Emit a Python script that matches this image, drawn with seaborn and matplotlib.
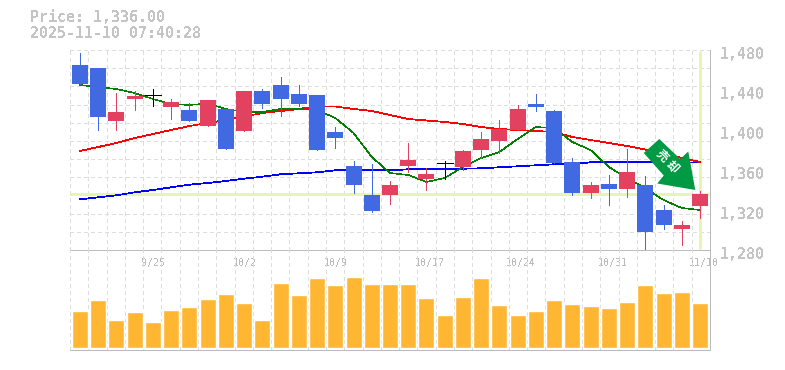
import numpy as np
import matplotlib
matplotlib.use('Agg')
import matplotlib.pyplot as plt
import seaborn as sns
from matplotlib.patches import Polygon
from matplotlib.transforms import ScaledTranslation, IdentityTransform

# daily prices, 35 sessions
opens = [1465, 1462, 1409, 1431, 1435, 1423, 1420, 1404, 1421, 1399, 1439, 1445, 1436, 1435, 1398, 1364, 1335, 1335,
         1364, 1351, 1367, 1363, 1380, 1389, 1400, 1426, 1419, 1368, 1337, 1346, 1341, 1345, 1320, 1301, 1324]
closes = [1446, 1413, 1418, 1434, 1435, 1428, 1409, 1430, 1381, 1439, 1426, 1431, 1426, 1380, 1392, 1345, 1319, 1345,
          1370, 1356, 1367, 1379, 1391, 1401, 1421, 1423, 1367, 1337, 1345, 1341, 1358, 1298, 1305, 1305, 1336]
highs = [1477, 1462, 1437, 1439, 1441, 1431, 1427, 1430, 1421, 1439, 1441, 1453, 1445, 1435, 1403, 1369, 1366, 1349,
         1387, 1362, 1369, 1380, 1398, 1410, 1425, 1436, 1420, 1372, 1348, 1355, 1381, 1354, 1325, 1309, 1339]
lows = [1446, 1400, 1400, 1420, 1424, 1411, 1409, 1404, 1381, 1399, 1422, 1414, 1424, 1380, 1382, 1337, 1318, 1326,
        1358, 1340, 1351, 1360, 1372, 1377, 1400, 1419, 1367, 1335, 1332, 1325, 1333, 1281, 1301, 1285, 1312]

ma_short = [1445, 1443, 1441, 1437, 1431, 1426, 1425, 1426.5, 1421, 1418, 1418, 1421, 1421, 1420, 1412, 1397, 1373, 1357,
            1355, 1348, 1352, 1363, 1372, 1378, 1391, 1403, 1402, 1388, 1380, 1363, 1352, 1342, 1330, 1322, 1320]
ma_mid = [1379, 1383, 1387, 1392, 1396, 1400, 1404, 1407, 1410, 1413.5, 1417, 1419, 1421, 1423.7, 1423.5, 1421, 1419, 1415,
          1411, 1409.5, 1408, 1406, 1403, 1401, 1400, 1399, 1398, 1393, 1390, 1387, 1384, 1380.5, 1377, 1372, 1368]
ma_long = [1330.7, 1332.7, 1334.7, 1337.7, 1340, 1342.7, 1345.3, 1347, 1349, 1351.3, 1353.3, 1355.7, 1356.7, 1357.7, 1359.7,
           1359.7, 1359.7, 1359.7, 1360.7, 1360.7, 1361, 1361.3, 1361.7, 1362.7, 1363.7, 1364.7, 1365.7, 1366, 1367.7,
           1367.7, 1367.7, 1367.7, 1367.7, 1367.7, 1367.5]

volumes = [37, 48, 28, 36, 26, 38, 41, 49, 54, 45, 28, 65, 53, 70, 63, 71, 64, 64,
           64, 50, 33, 51, 70, 43, 33, 37, 48, 44, 42, 40, 46, 63, 55, 56, 45]

date_pos = [4, 9, 14, 19, 24, 29, 34]
date_labels = ['9/25', '10/2', '10/9', '10/17', '10/24', '10/31', '11/10']
price_ticks = [1480, 1440, 1400, 1360, 1320, 1280]
price_labels = ['1,480', '1,440', '1,400', '1,360', '1,320', '1,280']
last_price = 1336

UP = '#E2415F'
DOWN = '#4169E1'
DOJI = '#000000'
TXT = '#BBBBBB'
TXT_BIG = '#C4C4C4'
GRID = '#DDDDDD'
GUIDE = '#E6F5B0'

sns.set_theme(style='white')
plt.rcParams['font.family'] = ['DejaVu Sans Mono']
plt.rcParams['text.antialiased'] = False

W, H = 785, 370
fig = plt.figure(figsize=(W / 100, H / 100), dpi=100)
ax = fig.add_axes([70 / W, 1 - 250 / H, 640 / W, 200 / H])
ax_vol = fig.add_axes([70 / W, 1 - 349.5 / H, 640 / W, 99.5 / H])

days = np.arange(len(opens))
xlim = (-0.548, 34.548)
px = 0.72  # one pixel in points
for a in (ax, ax_vol):
    a.set_xlim(xlim)
    a.set_facecolor('none')
    a.set_axisbelow(True)
    for s in a.spines.values():
        s.set_visible(False)
    for x in np.linspace(xlim[0], xlim[1], 36)[:-1]:
        a.axvline(x, color=GRID, linewidth=px, ls=(0, (3, 3)), antialiased=False, zorder=0)
    a.spines['right'].set_visible(True)
    a.spines['bottom'].set_visible(True)
    a.spines['right'].set_color(TXT)
    a.spines['bottom'].set_color(TXT)
    a.spines['right'].set_linewidth(px)
    a.spines['bottom'].set_linewidth(px)

ax.set_ylim(1280, 1480)
for y in np.linspace(1280, 1480, 12)[1:]:
    ax.axhline(y, color=GRID, linewidth=px, ls=(0, (3, 3)), antialiased=False, zorder=0)

# last price guides
ax.axhline(last_price, color=GUIDE, linewidth=3 * px, zorder=1)
ax.vlines(days[-1], 1281, 1479, color=GUIDE, linewidth=3 * px, zorder=1)

# moving averages, aliased lines come out fat so keep them thin
sns.lineplot(x=days, y=ma_long, ax=ax, color='#0000FF', linewidth=0.55, antialiased=False, zorder=2)
sns.lineplot(x=days, y=ma_mid, ax=ax, color='#FF0000', linewidth=0.55, antialiased=False, zorder=2)
sns.lineplot(x=days, y=ma_short, ax=ax, color='#008000', linewidth=0.4, antialiased=False, zorder=2)

# candles
for d, o, c, h, l in zip(days, opens, closes, highs, lows):
    col = UP if c > o else DOWN if c < o else DOJI
    ax.vlines(d, l, h, color=col, linewidth=px, antialiased=False, zorder=3)
    if c == o:
        ax.hlines(c, d - 0.44, d + 0.44, color=col, linewidth=px, antialiased=False, zorder=3)
    else:
        ax.bar(d, abs(c - o), bottom=min(o, c), width=16 / 18.235, color=col, linewidth=0, antialiased=False, zorder=3)

# volume
ax_vol.set_ylim(-1.5, 98)
sns.barplot(x=days, y=volumes, ax=ax_vol, color='#FFB733', saturation=1, width=16 / 18.235, native_scale=True, zorder=2)
ax_vol.set_xlim(xlim)
ax_vol.set_ylabel('')
ax_vol.set_yticks([])
ax_vol.set_xticks([])

# price labels on the right, sitting a little below their level
ax.yaxis.tick_right()
ax.set_yticks(price_ticks)
ax.set_yticklabels(price_labels, fontsize=10.8, color=TXT_BIG, weight='bold')
ax.tick_params(axis='y', length=0, pad=7)
shift = ScaledTranslation(0, -3 / 100, fig.dpi_scale_trans)
for t in ax.get_yticklabels():
    t.set_transform(t.get_transform() + shift)

# date labels start just left of their candle
ax.set_xticks(date_pos)
ax.set_xticklabels(date_labels, fontsize=7.2, color=TXT, ha='left')
ax.tick_params(axis='x', length=0, pad=6)
shift = ScaledTranslation(-11.5 / 100, 0, fig.dpi_scale_trans)
for t in ax.get_xticklabels():
    t.set_transform(t.get_transform() + shift)

fig.text(30 / W, 1 - 18 / H, 'Price: 1,336.00', fontsize=10.8, color=TXT_BIG, va='center', weight='bold')
fig.text(30 / W, 1 - 33 / H, '2025-11-10 07:40:28', fontsize=10.8, color=TXT_BIG, va='center', weight='bold')

# signal arrow, drawn in pixels from its tip
tip = ax.transData.transform((33.74, 1340))
arrow = [(0, 0), (-38, -6.5), (-31.5, -14.5), (-51.5, -37), (-36, -51), (-15, -31), (-7, -38.5)]
verts = [(tip[0] + dx, tip[1] - dy) for dx, dy in arrow]
ax.add_patch(Polygon(verts, closed=True, transform=IdentityTransform(), facecolor='#009944',
                     edgecolor='none', zorder=5, clip_on=False))
for ch, (gx, gy) in zip('売却', [(662, 156), (672, 167)]):
    t = fig.text(gx / W, 1 - gy / H, ch, fontsize=8.5, color='white', rotation=-45, ha='center', va='center',
                 family='Noto Sans CJK JP', weight='bold', zorder=6)
    t.set_antialiased(True)

fig.savefig('out.png', dpi=100)
